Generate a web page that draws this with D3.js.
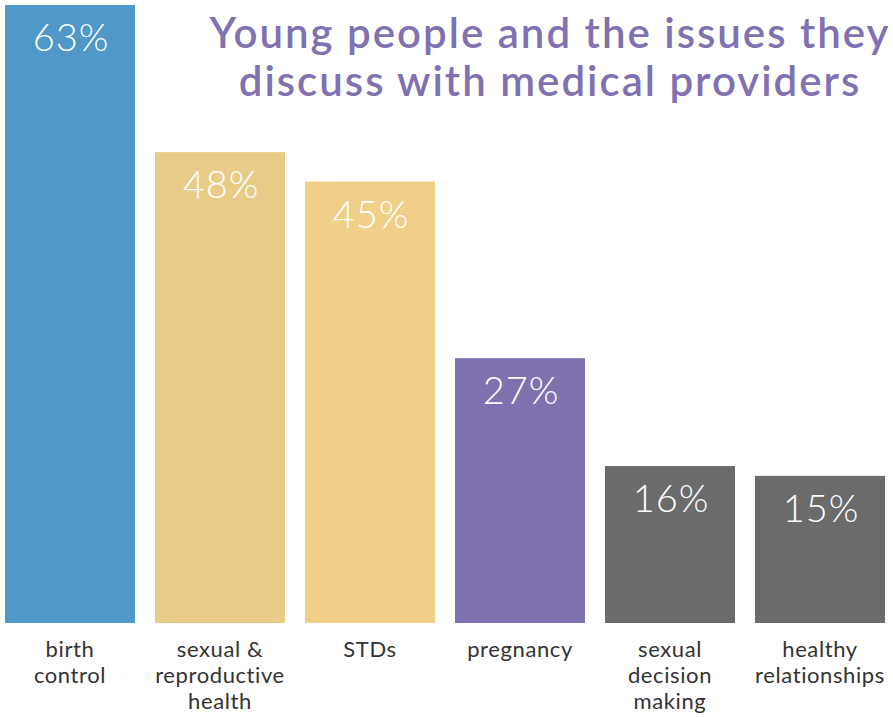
<!DOCTYPE html>
<html>
<head>
<meta charset="utf-8">
<title>Young people and the issues they discuss with medical providers</title>
<script src="https://d3js.org/d3.v7.min.js"></script>
<style>
  body { margin: 0; background: #fff; }
  svg { display: block; font-family: Lato, "Open Sans", sans-serif; }
</style>
</head>
<body>
<div id="chart"></div>
<script>
// data
const categories = ["birth control", "sexual & reproductive health", "STDs", "pregnancy", "sexual decision making", "healthy relationships"];
const labelLines = [["birth", "control"], ["sexual &", "reproductive", "health"], ["STDs"], ["pregnancy"], ["sexual", "decision", "making"], ["healthy", "relationships"]];
const values = [63, 48, 45, 27, 16, 15];
const colors = ["#4f98c9", "#e8cb86", "#f0d088", "#7f71b0", "#6b6b6b", "#6b6b6b"];
const titleLines = ["Young people and the issues they", "discuss with medical providers"];

const W = 893, H = 717;
const svg = d3.select("#chart").append("svg").attr("width", W).attr("height", H);

const x = d3.scaleBand().domain(categories).range([5, 885]).paddingInner(20 / 150).paddingOuter(0);
const y = d3.scaleLinear().domain([0, 63]).range([623, 5]);

// bars
svg.selectAll("rect.bar").data(categories).enter().append("rect")
  .attr("class", "bar")
  .attr("x", d => x(d))
  .attr("y", (d, i) => y(values[i]))
  .attr("width", x.bandwidth())
  .attr("height", (d, i) => y(0) - y(values[i]))
  .attr("fill", (d, i) => colors[i]);

// value labels inside the bars
svg.selectAll("text.val").data(categories).enter().append("text")
  .attr("class", "val")
  .attr("x", d => x(d) + x.bandwidth() / 2 + 1)
  .attr("y", (d, i) => y(values[i]) + 46)
  .attr("text-anchor", "middle")
  .attr("fill", "#fff")
  .style("font-size", "38px")
  .style("font-weight", 300)
  .style("letter-spacing", "1px")
  .text((d, i) => values[i] + "%");

// category labels
const lab = svg.selectAll("text.cat").data(categories).enter().append("text")
  .attr("class", "cat")
  .attr("x", d => x(d) + x.bandwidth() / 2)
  .attr("y", 657)
  .attr("text-anchor", "middle")
  .attr("fill", "#333")
  .style("font-size", "22px")
  .style("letter-spacing", "0.6px");
lab.each(function(d, i) {
  d3.select(this).selectAll("tspan").data(labelLines[i]).enter().append("tspan")
    .attr("x", x(d) + x.bandwidth() / 2)
    .attr("dy", (t, j) => j == 0 ? 0 : 26)
    .text(t => t);
});

// title
svg.selectAll("text.title").data(titleLines).enter().append("text")
  .attr("class", "title")
  .attr("x", 550)
  .attr("y", (d, i) => 48 + i * 48)
  .attr("text-anchor", "middle")
  .attr("fill", "#7f71b2")
  .style("font-size", "42px")
  .style("font-weight", 600)
  .style("letter-spacing", "2px")
  .text(d => d);
</script>
</body>
</html>
